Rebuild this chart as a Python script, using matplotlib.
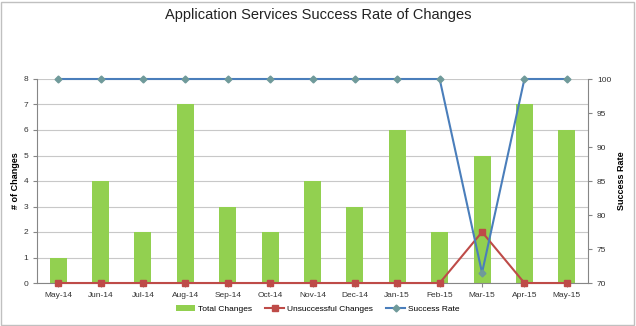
import matplotlib
matplotlib.use("Agg")
import matplotlib.pyplot as plt
from matplotlib.patches import Rectangle
import numpy as np

months = ["May-14", "Jun-14", "Jul-14", "Aug-14", "Sep-14", "Oct-14", "Nov-14",
          "Dec-14", "Jan-15", "Feb-15", "Mar-15", "Apr-15", "May-15"]
total_changes = [1, 4, 2, 7, 3, 2, 4, 3, 6, 2, 5, 7, 6]
unsuccessful = [0, 0, 0, 0, 0, 0, 0, 0, 0, 0, 2, 0, 0]
success_rate = [100, 100, 100, 100, 100, 100, 100, 100, 100, 100, 71.5, 100, 100]

plt.rcParams['font.family'] = ['Liberation Sans', 'DejaVu Sans']

fig = plt.figure(figsize=(6.36, 3.26), dpi=100)
W, H = 636, 326
ax = fig.add_axes([37 / W, 1 - 283 / H, (588 - 37) / W, (283 - 79) / H])
ax2 = ax.twinx()

x = np.arange(len(months))
bars = ax.bar(x, total_changes, width=0.4, color="#92D050", zorder=2, label="Total Changes")
l_uns, = ax.plot(x, unsuccessful, color="#BE4B48", lw=1.5, marker="s", ms=5,
                 zorder=4, label="Unsuccessful Changes", clip_on=False)
l_sr, = ax2.plot(x, success_rate, color="#4A7EBB", lw=1.5, marker="D", ms=3.5,
                 mfc="#6F9A9A", mec="#6F9A9A", zorder=5, label="Success Rate", clip_on=False)

ax.set_xlim(-0.5, len(months) - 0.5)
ax.set_ylim(0, 8)
ax2.set_ylim(70, 100)
ax.set_yticks(range(0, 9))
ax2.set_yticks(range(70, 101, 5))
ax.set_xticks(x)
ax.set_xticklabels(months)
ax.grid(axis="y", color="#C8C8C8", lw=0.8, zorder=0)
ax.set_axisbelow(True)

for a in (ax, ax2):
    a.tick_params(labelsize=6, length=3, color="#868686", width=0.8, labelcolor="#333333")
    for s in a.spines.values():
        s.set_visible(False)
ax.spines["left"].set_visible(True)
ax.spines["left"].set_color("#868686")
ax.spines["bottom"].set_visible(True)
ax.spines["bottom"].set_color("#868686")
ax2.spines["right"].set_visible(True)
ax2.spines["right"].set_color("#868686")

ax.set_ylabel("# of Changes", fontsize=6.5, fontweight="bold")
ax2.set_ylabel("Success Rate", fontsize=6.5, fontweight="bold")
ax.yaxis.set_label_coords((20 - 37) / (588 - 37), 0.5)
ax2.yaxis.set_label_coords((617 - 37) / (588 - 37), 0.5)

fig.text(0.5, 1 - 15 / H, "Application Services Success Rate of Changes",
         ha="center", va="center", fontsize=10.5, color="#222222")

fig.legend([bars, l_uns, l_sr], ["Total Changes", "Unsuccessful Changes", "Success Rate"],
           loc="center", bbox_to_anchor=(318 / W, 1 - 309 / H),
           ncol=3, frameon=False, fontsize=6, handlelength=2.2, handletextpad=0.4,
           columnspacing=1.6)

fig.patches.append(Rectangle((1 / W, 1 / H), 1 - 3 / W, 1 - 3 / H, transform=fig.transFigure,
                             fill=False, edgecolor="#C0C0C0", lw=1))

fig.savefig("out.png", dpi=100)
